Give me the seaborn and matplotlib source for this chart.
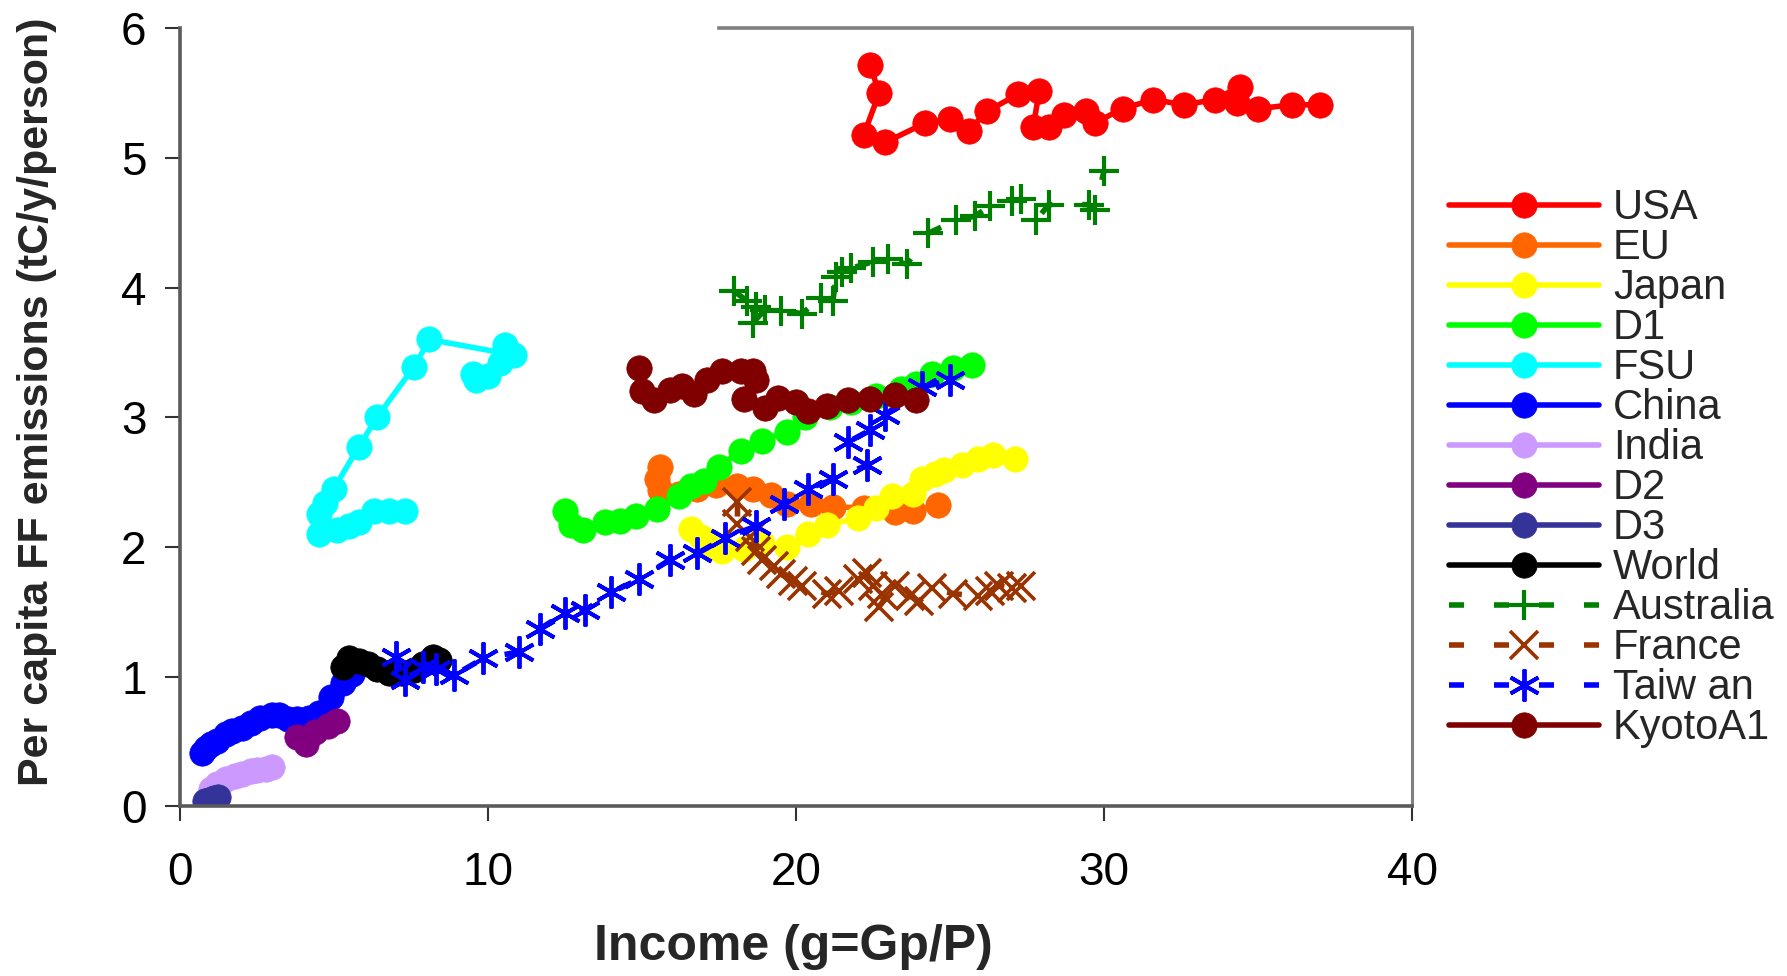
import matplotlib
matplotlib.use("Agg")
import matplotlib.pyplot as plt
import seaborn as sns
import pandas as pd

# ---------------- data ----------------
usa_x = [22.4, 22.7, 22.2, 22.9, 24.2, 25.0, 25.6, 26.2, 27.2, 27.9, 27.7, 28.2, 28.7, 29.4, 29.7, 30.6, 31.6, 32.6, 33.6, 34.4, 34.3, 35.0, 36.1, 37.0]
usa_y = [5.72, 5.50, 5.18, 5.12, 5.27, 5.30, 5.21, 5.36, 5.49, 5.52, 5.24, 5.24, 5.33, 5.36, 5.27, 5.38, 5.45, 5.41, 5.45, 5.55, 5.42, 5.38, 5.41, 5.41]

eu_x = [15.6, 15.5, 15.6, 16.2, 16.8, 17.4, 18.1, 18.6, 19.2, 19.7, 20.5, 21.2, 22.2, 23.2, 23.8, 24.6]
eu_y = [2.62, 2.52, 2.44, 2.41, 2.45, 2.48, 2.47, 2.45, 2.40, 2.33, 2.33, 2.31, 2.30, 2.27, 2.28, 2.32]

japan_x = [16.6, 16.9, 17.2, 17.6, 18.3, 18.9, 19.7, 20.4, 21.0, 22.0, 22.6, 23.1, 23.8, 24.1, 24.5, 24.8, 25.4, 25.9, 26.4, 27.1]
japan_y = [2.14, 2.08, 2.00, 1.97, 1.98, 2.03, 2.00, 2.10, 2.17, 2.22, 2.30, 2.39, 2.41, 2.52, 2.56, 2.59, 2.63, 2.68, 2.71, 2.68]

d1_x = [12.5, 12.7, 13.1, 13.8, 14.3, 14.8, 15.5, 16.2, 16.6, 17.0, 17.5, 18.2, 18.9, 19.7, 20.3, 21.1, 21.8, 22.6, 23.4, 23.9, 24.4, 25.1, 25.7]
d1_y = [2.28, 2.17, 2.13, 2.19, 2.20, 2.24, 2.29, 2.39, 2.47, 2.51, 2.62, 2.74, 2.82, 2.89, 3.00, 3.08, 3.12, 3.16, 3.22, 3.26, 3.33, 3.38, 3.40]

fsu_x = [9.5, 9.6, 10.0, 10.4, 10.55, 10.85, 8.1, 7.6, 6.4, 5.8, 5.0, 4.7, 4.5, 4.5, 5.1, 5.5, 5.8, 6.3, 6.8, 7.3]
fsu_y = [3.33, 3.29, 3.32, 3.42, 3.56, 3.48, 3.60, 3.39, 3.00, 2.77, 2.45, 2.34, 2.25, 2.10, 2.13, 2.16, 2.19, 2.28, 2.28, 2.28]

china_x = [0.7, 0.85, 1.0, 1.2, 1.5, 1.7, 2.0, 2.3, 2.6, 3.0, 3.2, 3.5, 3.8, 4.2, 4.5, 4.9, 5.3, 5.6]
china_y = [0.41, 0.45, 0.48, 0.50, 0.56, 0.58, 0.60, 0.64, 0.68, 0.70, 0.70, 0.67, 0.67, 0.68, 0.72, 0.84, 0.95, 1.02]

india_x = [1.0, 1.2, 1.5, 1.8, 2.0, 2.3, 2.5, 2.8, 3.0]
india_y = [0.13, 0.17, 0.21, 0.23, 0.25, 0.27, 0.28, 0.29, 0.30]

d2_x = [3.8, 4.1, 4.4, 4.8, 5.1]
d2_y = [0.53, 0.48, 0.57, 0.62, 0.66]

d3_x = [0.8, 0.95, 1.1, 1.25]
d3_y = [0.04, 0.05, 0.06, 0.07]

world_x = [5.3, 5.5, 5.8, 6.1, 6.4, 6.8, 7.2, 7.6, 7.9, 8.2, 8.4]
world_y = [1.07, 1.14, 1.12, 1.10, 1.06, 1.03, 1.03, 1.05, 1.10, 1.15, 1.13]

australia_x = [18.0, 18.4, 18.7, 18.6, 19.0, 19.5, 20.2, 20.8, 21.2, 21.3, 21.5, 21.8, 22.5, 23.0, 23.6, 24.3, 25.2, 25.8, 26.3, 27.0, 27.3, 27.8, 28.2, 29.5, 29.7, 30.0]
australia_y = [3.97, 3.90, 3.85, 3.73, 3.83, 3.82, 3.80, 3.92, 3.90, 4.08, 4.12, 4.15, 4.20, 4.22, 4.18, 4.42, 4.52, 4.55, 4.63, 4.67, 4.68, 4.52, 4.64, 4.64, 4.60, 4.90]

france_x = [18.1, 18.1, 18.5, 18.7, 18.9, 19.3, 19.5, 19.9, 20.2, 21.0, 21.4, 22.0, 22.3, 22.5, 22.8, 22.7, 23.2, 23.7, 24.0, 24.4, 25.1, 25.9, 26.3, 26.6, 27.0, 27.3]
france_y = [2.35, 2.18, 2.08, 1.97, 1.90, 1.85, 1.79, 1.74, 1.70, 1.64, 1.66, 1.75, 1.80, 1.70, 1.64, 1.54, 1.70, 1.62, 1.58, 1.68, 1.64, 1.62, 1.66, 1.70, 1.68, 1.70]

taiwan_x = [7.0, 7.3, 7.9, 8.3, 8.9, 9.85, 11.0, 11.7, 12.5, 13.15, 14.0, 14.9, 15.9, 16.8, 17.7, 18.7, 19.6, 20.4, 21.2, 22.3, 21.7, 22.4, 22.9, 24.1, 25.0]
taiwan_y = [1.15, 0.97, 1.07, 1.06, 1.01, 1.14, 1.19, 1.37, 1.49, 1.51, 1.65, 1.75, 1.90, 1.95, 2.07, 2.16, 2.33, 2.45, 2.52, 2.63, 2.81, 2.90, 3.02, 3.23, 3.29]

kyoto_x = [14.9, 15.0, 15.4, 15.9, 16.3, 16.7, 17.1, 17.6, 18.2, 18.6, 18.7, 18.3, 19.0, 19.4, 20.0, 20.4, 21.0, 21.7, 22.4, 23.2, 23.9]
kyoto_y = [3.38, 3.20, 3.13, 3.21, 3.24, 3.18, 3.29, 3.36, 3.36, 3.36, 3.29, 3.14, 3.07, 3.15, 3.12, 3.05, 3.09, 3.13, 3.14, 3.17, 3.13]

series_names = ["USA", "EU", "Japan", "D1", "FSU", "China", "India", "D2", "D3", "World",
                "Australia", "France", "Taiw an", "KyotoA1"]
series_x = [usa_x, eu_x, japan_x, d1_x, fsu_x, china_x, india_x, d2_x, d3_x, world_x,
            australia_x, france_x, taiwan_x, kyoto_x]
series_y = [usa_y, eu_y, japan_y, d1_y, fsu_y, china_y, india_y, d2_y, d3_y, world_y,
            australia_y, france_y, taiwan_y, kyoto_y]

# ---------------- styles ----------------
colors = ["#FF0000", "#FF6600", "#FFFF00", "#00FF00", "#00FFFF", "#0000FF", "#CC99FF",
          "#800080", "#333399", "#000000", "#008000", "#993300", "#0000FF", "#800000"]

sns.set_theme(style="white")
plt.rcParams["font.family"] = ["Liberation Sans", "DejaVu Sans"]

fig = plt.figure(figsize=(17.87, 9.76), dpi=100)
ax = fig.add_axes([0.1007, 0.174, 0.6895, 0.797])

LW = 4.0
dash_pat = (0, (2.7, 5.4))
for name, xs, ys, col in zip(series_names, series_x, series_y, colors):
    df = pd.DataFrame({"x": xs, "y": ys})
    if name == "Australia":
        mk, ms, mew, ls = "+", 22, 3.0, dash_pat
    elif name == "France":
        mk, ms, mew, ls = "x", 20, 2.6, dash_pat
    elif name.startswith("Taiw"):
        mk, ms, mew, ls = (6, 2, 0), 23, 2.8, dash_pat
    else:
        mk, ms, mew, ls = "o", 18.3, 0.5, "-"
    sns.lineplot(data=df, x="x", y="y", sort=False, estimator=None, ax=ax,
                 color=col, linewidth=LW, linestyle=ls, marker=mk, markersize=ms,
                 markeredgecolor=col, markeredgewidth=mew, markerfacecolor=col,
                 label=name, legend=False)

ax.set_xlim(0, 40)
ax.set_ylim(0, 6)
ax.set_xticks([0, 10, 20, 30, 40])
ax.set_yticks([0, 1, 2, 3, 4, 5, 6])
ax.tick_params(axis="both", which="major", direction="out", length=11, width=1.5,
               color="#333333", labelsize=33, labelcolor="black")
ax.tick_params(axis="x", pad=21)
ax.tick_params(axis="y", pad=13)
ax.tick_params(bottom=True, left=True)

for side in ["left", "bottom"]:
    ax.spines[side].set_color("#5a5a5a")
    ax.spines[side].set_linewidth(2.6)
ax.spines["right"].set_color("#808080")
ax.spines["right"].set_linewidth(2.2)
ax.spines["top"].set_color("#808080")
ax.spines["top"].set_linewidth(2.6)
ax.spines["top"].set_bounds(17.5, 40)

ax.set_xlabel("Income (g=Gp/P)", fontsize=36, fontweight="bold")
ax.set_ylabel("Per capita FF emissions (tC/y/person)", fontsize=31, fontweight="bold")
ax.xaxis.set_label_coords(0.498, -0.152)
ax.yaxis.set_label_coords(-0.10, 0.52)

handles = ax.get_lines()
leg = fig.legend(handles=handles, labels=series_names, loc="upper left",
                 bbox_to_anchor=(0.811, 0.807), frameon=False, fontsize=30,
                 handlelength=3.6, handletextpad=0.33, labelspacing=0.0,
                 borderpad=0, borderaxespad=0)

fig.savefig("out.png", dpi=100)
